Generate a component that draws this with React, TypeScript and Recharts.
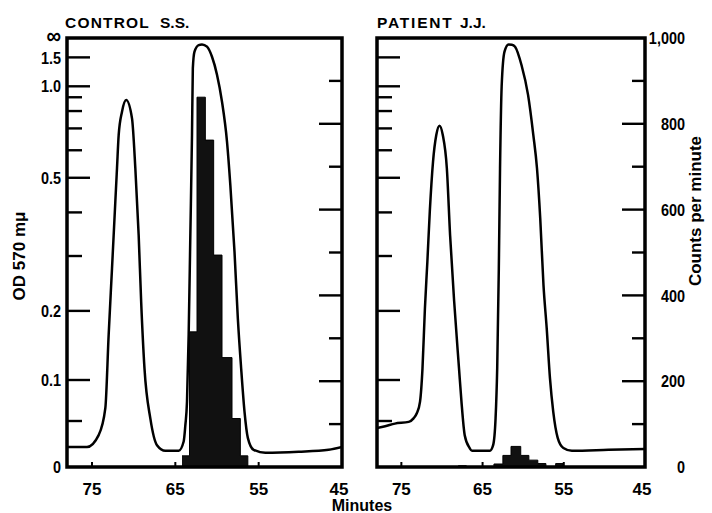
import React from "react"
import { ComposedChart, Line, Area, XAxis, YAxis, ReferenceArea } from "recharts"

// OD 570 mμ traces (minutes run from right to left)
const controlMinutes = [78.0, 75.6, 74.2, 73.4, 73.0, 72.6, 72.2, 72.0, 71.8, 71.4, 70.9, 70.2, 69.8, 69.4, 69.1, 68.7, 68.0, 67.2, 66.2, 64.6, 64.0, 63.8, 63.6, 63.4, 63.2, 63.0, 62.9, 62.7, 62.2, 61.8, 61.2, 60.6, 60.0, 59.4, 58.8, 58.4, 57.9, 57.5, 57.1, 56.7, 56.3, 55.6, 54.2, 50.2, 46.6, 45.0]
const controlOD = [0.021, 0.021, 0.034, 0.065, 0.163, 0.275, 0.429, 0.532, 0.667, 0.796, 0.878, 0.755, 0.532, 0.345, 0.215, 0.115, 0.053, 0.023, 0.017, 0.017, 0.027, 0.045, 0.073, 0.163, 0.345, 0.667, 1.24, 1.74, 2.6, 3.0, 2.2, 1.52, 1.14, 0.865, 0.637, 0.477, 0.309, 0.188, 0.115, 0.061, 0.031, 0.018, 0.015, 0.016, 0.018, 0.021]

const patientMinutes = [78.0, 77.0, 75.8, 74.1, 73.5, 73.1, 72.7, 72.4, 72.1, 71.8, 71.5, 71.1, 70.7, 70.3, 69.9, 69.4, 69.0, 68.5, 67.9, 67.6, 67.2, 66.6, 66.3, 64.1, 63.7, 63.4, 63.2, 63.0, 62.85, 62.65, 62.3, 61.8, 61.4, 61.0, 60.2, 59.4, 58.75, 58.3, 57.9, 57.5, 57.1, 56.7, 56.3, 55.75, 55.05, 54.0, 49.5, 45.0]
const patientOD = [0.042, 0.044, 0.047, 0.049, 0.053, 0.059, 0.073, 0.115, 0.204, 0.288, 0.402, 0.556, 0.667, 0.714, 0.667, 0.532, 0.345, 0.216, 0.115, 0.073, 0.034, 0.020, 0.017, 0.017, 0.023, 0.053, 0.115, 0.275, 0.532, 1.0, 1.74, 3.0, 2.8, 2.2, 1.3, 0.92, 0.667, 0.532, 0.385, 0.244, 0.172, 0.102, 0.061, 0.031, 0.020, 0.017, 0.018, 0.019]

// counts per minute histograms: bin edges (minutes) and count of each bin
const controlBinEdges = [64.2, 63.3, 62.4, 61.4, 60.4, 59.4, 58.2, 57.2, 56.3]
const controlCounts = [26, 315, 862, 762, 494, 255, 113, 26]
const patientBinEdges = [68.0, 67.0, 63.6, 62.5, 61.5, 60.3, 59.3, 58.2, 57.2, 56.0, 55.1]
const patientCounts = [3, 0, 7, 27, 48, 27, 16, 8, 0, 8]

// axis ticks
const minuteTicks = [75, 65, 55, 45]
const odTicks = [0, 0.05, 0.1, 0.2, 0.3, 0.4, 0.5, 0.6, 0.7, 0.8, 0.9, 1.0, 1.5, Infinity]
const odTickLabels = ["0", "", "0.1", "0.2", "", "", "0.5", "", "", "", "", "1.0", "1.5", "∞"]
const cpmTicks = [0, 100, 200, 300, 400, 500, 600, 700, 800, 900, 1000]

// OD axis is linear in transmittance: plot 1 - 10^-OD
const OD_TOP = 1.0142
const absorbed = (od: number) => (od === Infinity ? OD_TOP : 1 - Math.pow(10, -od))
const odTickValues = odTicks.map(absorbed)

const controlCurve = controlMinutes.map((m, i) => ({ minute: m, od: controlOD[i], t: absorbed(controlOD[i]) }))
const patientCurve = patientMinutes.map((m, i) => ({ minute: m, od: patientOD[i], t: absorbed(patientOD[i]) }))
const controlHist = controlBinEdges.map((m, i) => ({ minute: m, cpm: controlCounts[i] ?? 0 }))
const patientHist = patientBinEdges.map((m, i) => ({ minute: m, cpm: patientCounts[i] ?? 0 }))

const FONT = "'Liberation Sans', Arial, sans-serif"

// condensed bold numbers like the old typeset labels
function NarrowText({ x, y, anchor, size = 17, children }: any) {
  return (
    <text
      transform={`translate(${x} ${y}) scale(0.85 1)`}
      dy="0.36em"
      textAnchor={anchor}
      fontFamily={FONT}
      fontWeight="bold"
      fontSize={size}
      fill="#000"
    >
      {children}
    </text>
  )
}

const odTick = (withLabels: boolean) => (props: any) => {
  const { x, y, index } = props
  const label = odTickLabels[index]
  const len = label ? 23 : 15
  const inner = index > 0 && index < odTicks.length - 1
  return (
    <g>
      {inner && <line x1={x} x2={x + len} y1={y} y2={y} stroke="#000" strokeWidth={2.4} />}
      {withLabels && label && (
        <NarrowText x={x - 6} y={label === "∞" ? y - 3 : y} anchor="end" size={label === "∞" ? 24 : 17}>
          {label}
        </NarrowText>
      )}
    </g>
  )
}

const cpmTick = (withLabels: boolean) => (props: any) => {
  const { x, y, payload } = props
  const v = payload.value as number
  const len = v % 200 === 0 ? 23 : 13
  const inner = v > 0 && v < 1000
  return (
    <g>
      {inner && <line x1={x} x2={x - len} y1={y} y2={y} stroke="#000" strokeWidth={2.4} />}
      {withLabels && v % 200 === 0 && (
        <NarrowText x={x + 40} y={y} anchor="end">
          {v === 1000 ? "1,000" : v}
        </NarrowText>
      )}
    </g>
  )
}

const minuteTick = (props: any) => {
  const { x, y, payload } = props
  return (
    <g>
      {payload.value !== 45 && <line x1={x} x2={x} y1={y} y2={y - 5} stroke="#000" strokeWidth={2} />}
      <text
        x={payload.value === 45 ? x - 3 : x}
        y={y + 28}
        textAnchor="middle"
        fontFamily={FONT}
        fontWeight="bold"
        fontSize={17}
        fill="#000"
      >
        {payload.value}
      </text>
    </g>
  )
}

function Panel({ curve, hist, leftWidth, rightWidth, width, odLabels, cpmLabels }: any) {
  return (
    <ComposedChart width={width} height={513} margin={{ top: 38, right: 0, bottom: 0, left: 0 }}>
      <XAxis
        dataKey="minute"
        type="number"
        domain={[45, 78]}
        reversed
        allowDataOverflow
        ticks={minuteTicks}
        interval={0}
        height={46}
        axisLine={false}
        tickLine={false}
        tickSize={0}
        tickMargin={0}
        tick={minuteTick}
      />
      <YAxis
        yAxisId="od"
        orientation="left"
        type="number"
        domain={[0, OD_TOP]}
        allowDataOverflow
        ticks={odTickValues}
        interval={0}
        width={leftWidth}
        axisLine={false}
        tickLine={false}
        tickSize={0}
        tickMargin={0}
        tick={odTick(odLabels)}
      />
      <YAxis
        yAxisId="cpm"
        orientation="right"
        type="number"
        domain={[0, 1000]}
        allowDataOverflow
        ticks={cpmTicks}
        interval={0}
        width={rightWidth}
        axisLine={false}
        tickLine={false}
        tickSize={0}
        tickMargin={0}
        tick={cpmTick(cpmLabels)}
      />
      <Area
        yAxisId="cpm"
        data={hist}
        dataKey="cpm"
        type="stepAfter"
        stroke="#000"
        strokeWidth={1}
        fill="#111"
        fillOpacity={1}
        isAnimationActive={false}
      />
      <Line
        yAxisId="od"
        data={curve}
        dataKey="t"
        type="monotone"
        stroke="#000"
        strokeWidth={2.5}
        dot={false}
        activeDot={false}
        isAnimationActive={false}
      />
      <ReferenceArea
        yAxisId="cpm"
        x1={78}
        x2={45}
        y1={0}
        y2={1000}
        fill="none"
        stroke="#000"
        strokeWidth={3.5}
        ifOverflow="visible"
      />
    </ComposedChart>
  )
}

export default function App() {
  return (
    <div style={{ position: "absolute", left: 0, top: 0, width: 712, height: 513, background: "#fff", overflow: "hidden" }}>
      <div style={{ position: "absolute", left: 0, top: 0 }}>
        <Panel curve={controlCurve} hist={controlHist} width={360} leftWidth={67} rightWidth={18} odLabels={true} cpmLabels={false} />
      </div>
      <div style={{ position: "absolute", left: 360, top: 0 }}>
        <Panel curve={patientCurve} hist={patientHist} width={352} leftWidth={17} rightWidth={67} odLabels={false} cpmLabels={true} />
      </div>
      <svg width={712} height={513} style={{ position: "absolute", left: 0, top: 0, pointerEvents: "none" }}>
        <g fontFamily={FONT} fontWeight="bold" fill="#000">
          <text x={65} y={28} fontSize={15.5} style={{ letterSpacing: 1.2 }}>CONTROL</text>
          <text x={160} y={28} fontSize={15.5}>S.S.</text>
          <text x={377} y={28} fontSize={15.5} style={{ letterSpacing: 1.8 }}>PATIENT</text>
          <text x={460} y={28} fontSize={15.5}>J.J.</text>
          <text x={362} y={511} fontSize={16} textAnchor="middle">Minutes</text>
          <text x={25} y={256} fontSize={17} textAnchor="middle" transform="rotate(-90 25 256)">OD 570 mμ</text>
          <text x={701} y={211} fontSize={17} textAnchor="middle" transform="rotate(-90 701 211)">Counts per minute</text>
        </g>
      </svg>
    </div>
  )
}
